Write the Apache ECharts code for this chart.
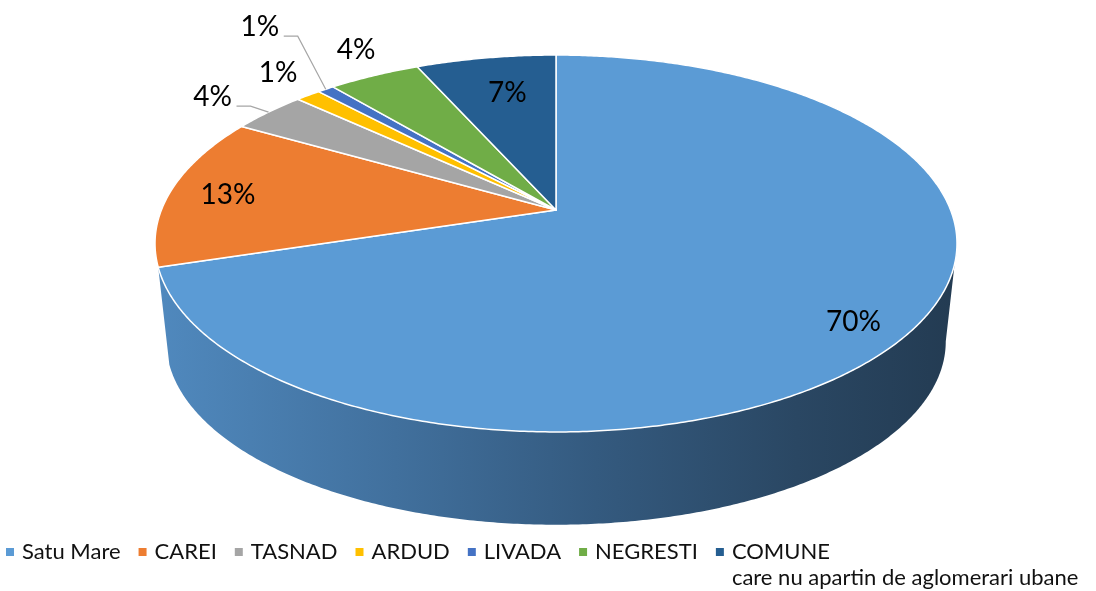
<!DOCTYPE html>
<html>
<head>
<meta charset="utf-8">
<script src="https://cdn.jsdelivr.net/npm/echarts@6/dist/echarts.min.js"></script>
<style>
  html, body { margin: 0; padding: 0; background: #fff; }
  #chart_1 { width: 1096px; height: 591px; }
</style>
</head>
<body>
<div id="chart_1"></div>
<script>
'use strict';
// share of each area (percent)
var categories = ['Satu Mare', 'CAREI', 'TASNAD', 'ARDUD', 'LIVADA', 'NEGRESTI',
                  'COMUNE\ncare nu apartin de aglomerari ubane'];
var shares = [70.2, 13.1, 3.6, 1.2, 0.8, 4.4, 6.7];

var colors = ['#5B9BD5', '#ED7D31', '#A5A5A5', '#FFC000', '#4472C4', '#70AD47', '#255E91'];
var wallColors = ['#3F6E9A', '#B35E25', '#7C7C7C', '#BF9000', '#335695', '#548235', '#1C466D'];

// projected disc (simple perspective), px
var CX = 556, CY = 210, A = 394.6, B = 182.5, G = -0.1777;
var DEPTH = 99, BOTTOM_SCALE = 0.972;
var WALL_FROM = 0.2784, WALL_TO = 0.702;

// where each percentage label sits: r = radius factor, dx/dy = nudge from that point
var labelPlace = [
  { r: 0.86, dx: -3, dy: 8 },
  { r: 0.85, dx: 0, dy: 0 },
  { r: 1, dx: -56, dy: -17, leader: true },
  { r: 1, dx: -30, dy: -24 },
  { r: 1, dx: -66, dy: -64, leader: true },
  { r: 1, dx: -18, dy: -28 },
  { r: 0.75, dx: 6, dy: -1 }
];

function proj(frac, r, drop, scale) {
  var t = frac * Math.PI * 2;
  var u = r * Math.sin(t), v = -r * Math.cos(t);
  var den = 1 + G * v;
  return [CX + scale * A * u / den, CY + drop + scale * B * v / den];
}

function arc(a, b, drop, scale) {
  var n = Math.max(2, Math.ceil(Math.abs(b - a) * 720));
  var pts = [];
  for (var k = 0; k <= n; k++) {
    pts.push(proj(a + (b - a) * k / n, 1, drop, scale));
  }
  return pts;
}

function wallFill(i) {
  if (i === 0) {
    return {
      type: 'linear', x: 155, y: 0, x2: 957, y2: 0, global: true,
      colorStops: [
        { offset: 0, color: '#5089BE' },
        { offset: 0.3, color: '#41709D' },
        { offset: 0.55, color: '#345A7F' },
        { offset: 0.8, color: '#2A4763' },
        { offset: 1, color: '#233B52' }
      ]
    };
  }
  return wallColors[i];
}

function renderSlice(params, api) {
  var i = params.seriesIndex;
  var s = api.value(0), e = api.value(1);
  var children = [];
  var w0 = Math.max(s, WALL_FROM), w1 = Math.min(e, WALL_TO);
  if (w1 - w0 > 0.0005) {
    var wall = arc(w0, w1, 0, 1).concat(arc(w1, w0, DEPTH, BOTTOM_SCALE));
    children.push({ type: 'polygon', shape: { points: wall }, style: { fill: wallFill(i) } });
  }
  var top = [[CX, CY]].concat(arc(s, e, 0, 1));
  children.push({
    type: 'polygon', shape: { points: top },
    style: { fill: colors[i], stroke: '#fff', lineWidth: 1.5, lineJoin: 'round' }
  });

  var lp = labelPlace[i];
  var mid = (s + e) / 2;
  var p = proj(mid, lp.r, 0, 1);
  var lx = p[0] + lp.dx, ly = p[1] + lp.dy;
  if (lp.leader) {
    var rim = proj(mid, 1, 0, 1);
    children.push({
      type: 'polyline',
      shape: { points: [[lx + 24, ly + 11], [lx + 38, ly + 11], rim] },
      style: { stroke: '#A6A6A6', lineWidth: 1.2, fill: null }
    });
  }
  children.push({
    type: 'text', x: lx, y: ly + 2,
    style: {
      text: Math.round(shares[i]) + '%',
      fill: '#000', font: '28px Lato',
      align: 'center', verticalAlign: 'middle'
    }
  });
  return { type: 'group', children: children };
}

var total = shares.reduce(function (a, b) { return a + b; }, 0);
var acc = 0;
var series = categories.map(function (name, i) {
  var start = acc / total;
  acc += shares[i];
  return {
    type: 'custom',
    name: name,
    coordinateSystem: 'none',
    silent: true,
    itemStyle: { color: colors[i] },
    renderItem: renderSlice,
    data: [[start, acc / total]]
  };
});

var myChart = echarts.init(document.getElementById('chart_1'));
var option = {
  animation: false,
  legend: {
    left: 1,
    top: 508,
    width: 1096,
    icon: 'path://M0,0H10V10H0Z',
    itemWidth: 14,
    itemHeight: 8,
    itemGap: 18,
    selectedMode: false,
    textStyle: { fontFamily: 'Lato', fontSize: 22, color: '#111', lineHeight: 26 },
    // last entry: push the two-line name down so its first line sits by the icon
    formatter: function (name) {
      return name.indexOf('\n') > 0 ? '\n' + name : name;
    },
    data: categories
  },
  series: series
};
myChart.setOption(option);
</script>
</body>
</html>
